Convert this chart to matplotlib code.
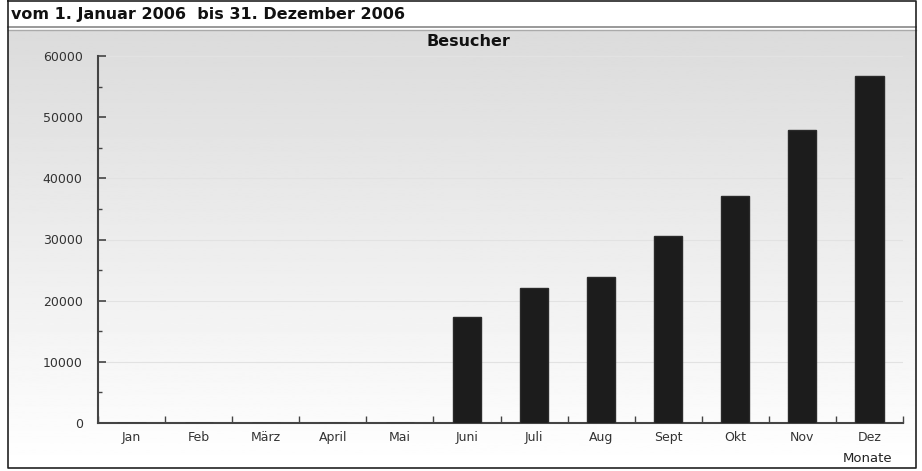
import numpy as np
import matplotlib.pyplot as plt
from matplotlib.ticker import MultipleLocator, FixedLocator

monate = ['Jan', 'Feb', 'März', 'April', 'Mai', 'Juni', 'Juli', 'Aug', 'Sept', 'Okt', 'Nov', 'Dez']
besucher = [0, 0, 0, 0, 0, 17300, 22050, 23850, 30550, 37100, 47900, 56750]
kopf = 'vom 1. Januar 2006  bis 31. Dezember 2006'

fig = plt.figure(figsize=(9.22, 4.71), dpi=100)

# background box with grey->white gradient
bg = fig.add_axes([0, 0, 1, 1], zorder=0)
bg.set_xlim(0, 922)
bg.set_ylim(471, 0)
bg.axis('off')
grad = np.linspace(0.86, 1.0, 256).reshape(-1, 1)
bg.imshow(grad, cmap='gray', vmin=0, vmax=1, extent=[8, 916, 468, 30], aspect='auto')
bg.plot([8, 916], [27, 27], color='#888888', lw=1.2)
bg.plot([8, 916], [30, 30], color='#aaaaaa', lw=1.0)
bg.plot([8, 8, 916, 916, 8], [1, 468, 468, 1, 1], color='#222222', lw=1.2)
bg.text(11, 14, kopf, fontsize=11.5, fontweight='bold', color='#111111',
        va='center', ha='left')
bg.text(468, 41, 'Besucher', fontsize=11.5, fontweight='bold', color='#111111',
        va='center', ha='center')
bg.text(868, 458, 'Monate', fontsize=9.5, color='#222222', ha='center', va='center')

ax = fig.add_axes([98/922, (471-423)/471, (903-98)/922, (423-56)/471], zorder=1)
ax.patch.set_alpha(0)
x = np.arange(len(monate))
ax.bar(x, besucher, width=0.42, color='#1c1c1c', edgecolor='#2a2a2a', zorder=3)

ax.set_xlim(-0.5, len(monate) - 0.5)
ax.set_ylim(0, 60000)
ax.yaxis.set_major_locator(MultipleLocator(10000))
ax.yaxis.set_minor_locator(MultipleLocator(5000))
ax.set_xticks(x)
ax.set_xticklabels(monate)
ax.xaxis.set_minor_locator(FixedLocator(np.arange(-0.5, len(monate), 1.0)))

ax.tick_params(axis='y', which='major', direction='in', length=6, width=1.2,
               color='#444444', labelsize=9, labelcolor='#333333', pad=11)
ax.tick_params(axis='y', which='minor', direction='in', length=3, width=1.0, color='#444444')
ax.tick_params(axis='x', which='major', length=0, labelsize=9, labelcolor='#333333', pad=6)
ax.tick_params(axis='x', which='minor', direction='in', length=5, width=1.0, color='#444444')

for s in ['top', 'right']:
    ax.spines[s].set_visible(False)
for s in ['left', 'bottom']:
    ax.spines[s].set_color('#444444')
    ax.spines[s].set_linewidth(1.5)

ax.grid(axis='y', which='major', color='#e2e2e2', lw=0.8, zorder=0)

fig.savefig('out.png', dpi=100)
